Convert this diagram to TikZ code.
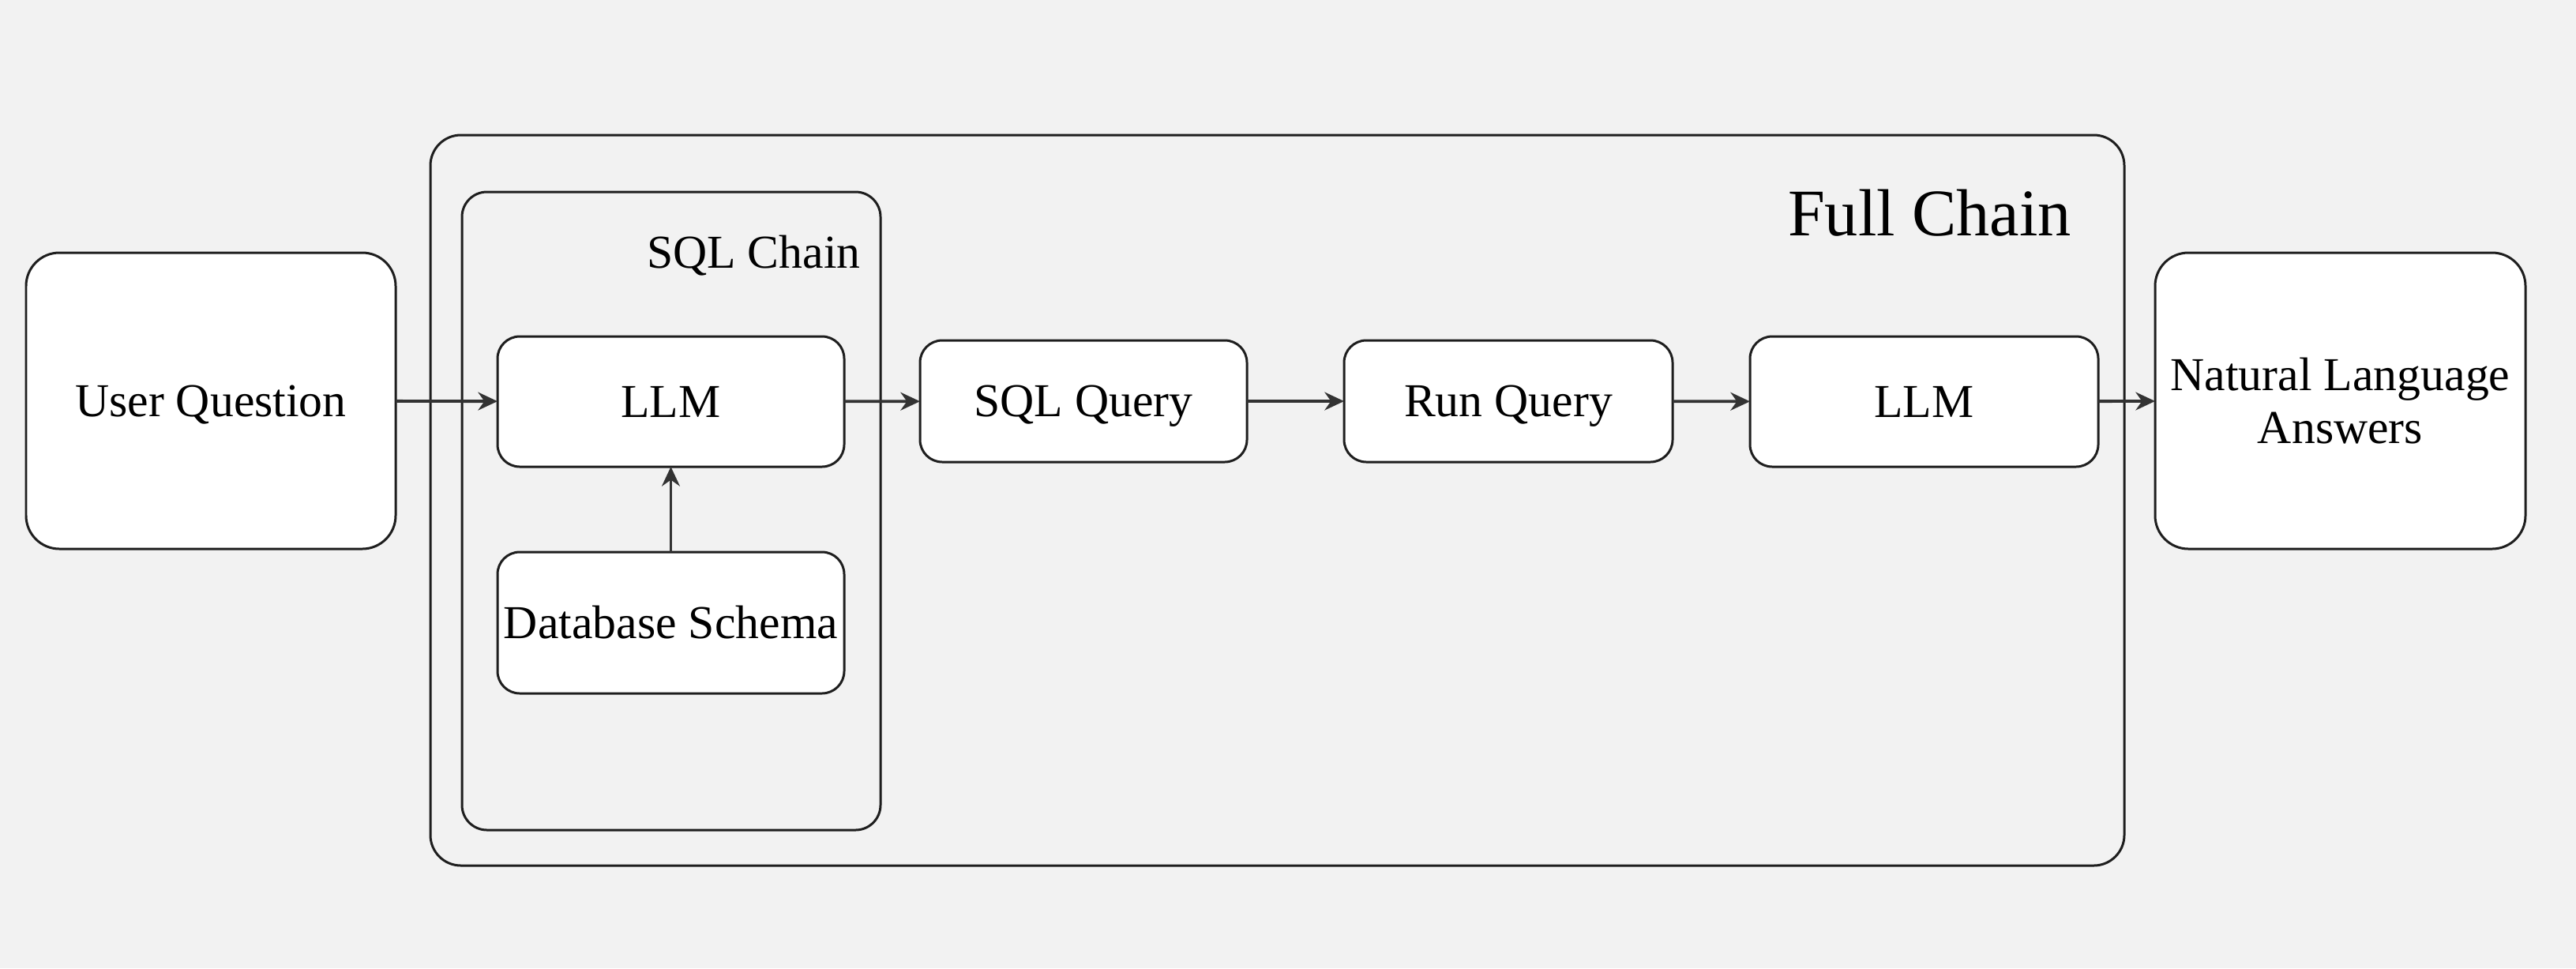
\documentclass[tikz,border=0pt]{standalone}
\usepackage{fontspec}
\setmainfont{Liberation Serif}
\usepackage{tikz}
\usetikzlibrary{arrows.meta,positioning}
\usepackage{xcolor}
\definecolor{sqlbg}{RGB}{242,242,242}
\definecolor{sqlline}{RGB}{30,30,30}
\definecolor{sqlarrow}{RGB}{51,51,51}
\tikzstyle{arrow} = [line width=1.1pt,-{Stealth[length=7pt,width=6.5pt]},color=sqlarrow]
\tikzstyle{stepbox} = [rectangle, rounded corners=8pt, inner sep=0pt, outer sep=0pt, text centered, draw=sqlline, fill=white, line width=0.85pt, font=\fontsize{17}{19}\selectfont, text height=11.3pt, text depth=0pt]
\tikzstyle{chainbox} = [rectangle, rounded corners=11pt, inner sep=0pt, outer sep=0pt, draw=sqlline, fill=sqlbg, line width=0.85pt]

\begin{document}
\begin{tikzpicture}
    % Background
    \fill[sqlbg] (0,0) rectangle (32.62,-12.26);
    \useasboundingbox (0,0) rectangle (32.62,-12.26);

    % Containers
    \node[chainbox, minimum width=21.45cm, minimum height=9.25cm] (fullchain) at (16.175,-6.335) {};
    \node[anchor=east, font=\fontsize{24}{28}\selectfont] (fulllabel) at (26.35,-2.70) {Full Chain};
    \node[chainbox, rounded corners=9pt, minimum width=5.30cm, minimum height=8.08cm] (sqlchain) at (8.50,-6.47) {};
    \node[anchor=east, font=\fontsize{17}{19}\selectfont] (sqllabel) at (11.02,-3.24) {SQL Chain};

    % Nodes
    \node[stepbox, rounded corners=12pt, minimum width=4.68cm, minimum height=3.75cm] (question) at (2.67,-5.075) {User Question};
    \node[stepbox, minimum width=4.39cm, minimum height=1.65cm] (llmsql) at (8.495,-5.085) {LLM};
    \node[stepbox, minimum width=4.39cm, minimum height=1.79cm] (schema) at (8.495,-7.885) {Database Schema};
    \node[stepbox, minimum width=4.14cm, minimum height=1.54cm] (query) at (13.72,-5.08) {SQL Query};
    \node[stepbox, minimum width=4.16cm, minimum height=1.54cm] (run) at (19.10,-5.08) {Run Query};
    \node[stepbox, minimum width=4.41cm, minimum height=1.65cm] (llmans) at (24.365,-5.085) {LLM};
    \node[stepbox, rounded corners=12pt, minimum width=4.69cm, minimum height=3.75cm, align=center, text height=, text depth=] (answer) at (29.635,-5.075) {Natural Language\\Answers};

    % Arrows
    \draw[arrow] (question) -- (llmsql);
    \draw[arrow] (schema) -- (llmsql);
    \draw[arrow] (llmsql) -- (query);
    \draw[arrow] (query) -- (run);
    \draw[arrow] (run) -- (llmans);
    \draw[arrow] (llmans) -- (answer);
\end{tikzpicture}
\end{document}
